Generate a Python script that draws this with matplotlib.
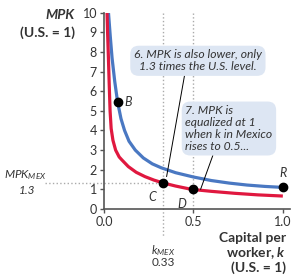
import matplotlib.pyplot as plt

# US curve (blue) and Mexico curve (red)
k_us = [0.025, 0.035, 0.045, 0.06, 0.076, 0.095, 0.115, 0.14, 0.175, 0.22,
        0.27, 0.32, 0.4, 0.5, 0.6, 0.7, 0.8, 0.9, 1.0]
mpk_us = [10.0, 8.8, 7.7, 6.5, 5.45, 4.6, 4.0, 3.45, 3.0, 2.6,
          2.3, 2.1, 1.85, 1.63, 1.45, 1.32, 1.22, 1.15, 1.1]
k_mex = [0.017, 0.02, 0.024, 0.029, 0.034, 0.04, 0.05, 0.065, 0.085, 0.1,
         0.136, 0.18, 0.229, 0.28, 0.33, 0.4, 0.49, 0.6, 0.73, 0.86, 1.0]
mpk_mex = [10.0, 9.0, 7.9, 6.4, 5.0, 4.1, 3.5, 3.0, 2.65, 2.5,
           2.16, 1.87, 1.65, 1.47, 1.33, 1.17, 1.0, 0.9, 0.8, 0.72, 0.66]

# labelled points
pt_names = ['B', 'C', 'D', 'R']
pt_k = [0.076, 0.33, 0.5, 1.0]
pt_mpk = [5.45, 1.33, 1.0, 1.1]

k_mex_val = 0.33
mpk_mex_val = 1.3

blue = '#4a78c2'
red = '#e0183f'
txt = '#333333'
boxc = '#dde6f3'
font = 'Lato'

plt.rcParams['mathtext.fontset'] = 'custom'
plt.rcParams['mathtext.it'] = 'Lato:italic'
plt.rcParams['mathtext.rm'] = 'Lato'
plt.rcParams['mathtext.bf'] = 'Lato:bold:italic'

fig = plt.figure(figsize=(2.92, 2.75), dpi=100)
ax = fig.add_axes([104/292, 1 - 209/275, 186/292, 196.3/275])

# guide lines
ax.plot([k_mex_val, k_mex_val], [10, -1.4], ':', color='#aaaaaa', lw=1, clip_on=False, zorder=1)
ax.plot([0.5, 0.5], [10, 0], ':', color='#aaaaaa', lw=1, zorder=1)
ax.plot([-0.33, k_mex_val], [mpk_mex_val, mpk_mex_val], ':', color='#aaaaaa', lw=1,
        clip_on=False, zorder=1)

ax.plot(k_us, mpk_us, color=blue, lw=2.3, solid_capstyle='butt', zorder=3)
ax.plot(k_mex, mpk_mex, color=red, lw=2.3, solid_capstyle='butt', zorder=3)
ax.plot(pt_k, pt_mpk, 'o', color='black', ms=6, zorder=5, clip_on=False)

offs = {'B': (5, 0, 'left', 'center'), 'C': (-5, -6, 'right', 'top'),
        'D': (-5, -6, 'right', 'top'), 'R': (0, 6, 'center', 'bottom')}
for n, kx, my in zip(pt_names, pt_k, pt_mpk):
    dx, dy, ha, va = offs[n]
    ax.annotate(n, (kx, my), xytext=(dx, dy), textcoords='offset points',
                ha=ha, va=va, fontsize=9, style='italic', color=txt, family=font)

ax.set_xlim(0, 1.04)
ax.set_ylim(0, 10)
ax.set_xticks([0, 0.5, 1.0])
ax.set_xticklabels(['0.0', '0.5', '1.0'])
ax.set_yticks(range(11))
for s in ['top', 'right']:
    ax.spines[s].set_visible(False)
for s in ['left', 'bottom']:
    ax.spines[s].set_color('#555555')
    ax.spines[s].set_linewidth(1.2)
ax.tick_params(colors='#555555', labelcolor=txt, labelsize=9, length=3, width=1, pad=2)
for lab in ax.get_xticklabels() + ax.get_yticklabels():
    lab.set_family(font)

# axis titles
fig.text(75/292, 1 - 15/275, 'MPK', ha='right', va='center', fontsize=10,
         weight='bold', style='italic', color=txt, family=font)
fig.text(75/292, 1 - 33/275, '(U.S. = 1)', ha='right', va='center', fontsize=10,
         weight='bold', color=txt, family=font)
fig.text(286/292, 1 - 253/275, 'Capital per\nworker, $\\mathbf{k}$\n(U.S. = 1)',
         ha='right', va='center', fontsize=10, weight='bold', color=txt,
         family=font, linespacing=1.1)

ax.text(-0.44, 1.75, '$MPK_{MEX}$', ha='center', va='center', fontsize=8.5,
        color=txt)
ax.text(-0.43, 0.95, '1.3', ha='center', va='center', fontsize=8.5,
        style='italic', color=txt, family=font)
ax.text(0.33, -2.1, '$k_{MEX}$', ha='center', va='center', fontsize=8.5,
        color=txt)
ax.text(0.33, -2.75, '0.33', ha='center', va='center', fontsize=8.5,
        color=txt, family=font)

bbox = dict(boxstyle='round,pad=0.3,rounding_size=0.7', fc=boxc, ec='none')
ax.annotate('6. MPK is also lower, only\n1.3 times the U.S. level.',
            xy=(0.35, 1.65), xytext=(0.525, 7.55), ha='center', va='center',
            fontsize=8.7, style='italic', color=txt, family=font, bbox=bbox,
            arrowprops=dict(arrowstyle='-', color='black', lw=0.7, shrinkA=0, shrinkB=0,
                            relpos=(0.4, 0)),
            zorder=6, linespacing=1.1)
ax.annotate('7. MPK is\nequalized at 1\nwhen k in Mexico\nrises to 0.5...',
            xy=(0.54, 1.0), xytext=(0.455, 4.1), ha='left', va='center',
            fontsize=8.7, style='italic', color=txt, family=font, bbox=bbox,
            arrowprops=dict(arrowstyle='-', color='black', lw=0.7, shrinkA=0, shrinkB=0,
                            relpos=(0.33, 0)),
            zorder=6, linespacing=1.1)

fig.savefig('out.png', dpi=100)
